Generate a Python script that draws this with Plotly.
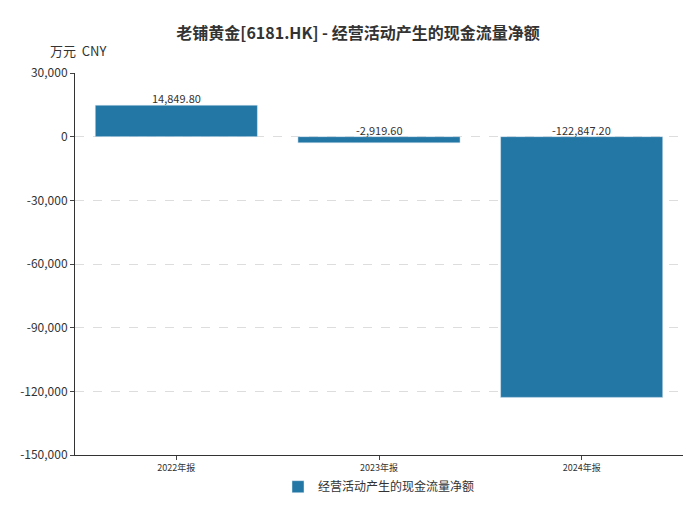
import plotly.graph_objects as go

categories = ["2022年报", "2023年报", "2024年报"]
values = [14849.80, -2919.60, -122847.20]
labels = ["14,849.80", "-2,919.60", "-122,847.20"]
tick_vals = [30000, 0, -30000, -60000, -90000, -120000, -150000]
tick_text = ["30,000", "0", "-30,000", "-60,000", "-90,000", "-120,000", "-150,000"]

fig = go.Figure()
fig.add_trace(go.Bar(
    x=categories, y=values, name="经营活动产生的现金流量净额",
    marker=dict(color="#2277a4"), width=0.8,
))
for c, v, t in zip(categories, values, labels):
    fig.add_annotation(x=c, y=max(v, 0), text=t, showarrow=False, yanchor="bottom",
                       yshift=-3, font=dict(size=11, color="#333"))

fig.update_layout(
    width=700, height=505,
    font=dict(family="Noto Sans CJK SC", color="#333"),
    title=dict(text="<b>老铺黄金[6181.HK] - 经营活动产生的现金流量净额</b>", x=0.5, y=0.96,
               xanchor="center", font=dict(size=16, color="#333")),
    plot_bgcolor="white", paper_bgcolor="white",
    margin=dict(l=60, r=25, t=65, b=50),
    showlegend=True,
    legend=dict(orientation="h", x=0.5, xanchor="center", y=-0.045, yanchor="top",
                font=dict(size=12)),
    bargap=0.2,
)
fig.add_annotation(text="万元  CNY", xref="paper", yref="paper", x=-0.045, y=1.03,
                   xanchor="left", yanchor="bottom", showarrow=False, font=dict(size=13))
fig.update_xaxes(showline=True, linecolor="#333", ticks="outside", ticklen=4,
                 tickfont=dict(size=9))
fig.update_yaxes(range=[-150000, 30000], tickvals=tick_vals, ticktext=tick_text,
                 showgrid=True, gridcolor="#ddd", griddash="dash", zeroline=False,
                 showline=True, linecolor="#333", ticks="outside", ticklen=4,
                 tickfont=dict(size=12))
fig.write_html("out.html")
